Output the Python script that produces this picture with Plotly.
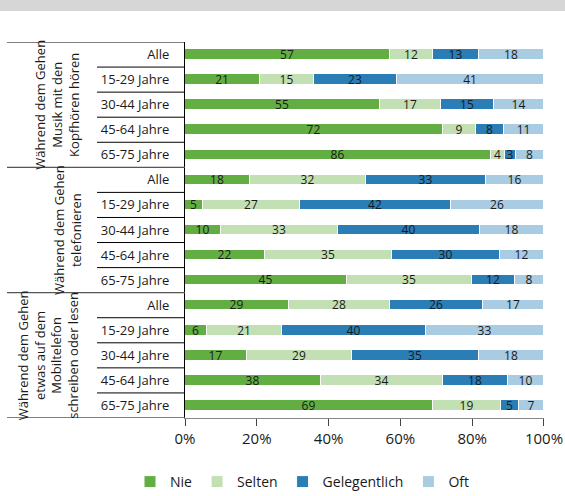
import plotly.graph_objects as go

series = ["Nie", "Selten", "Gelegentlich", "Oft"]
colors = ["#62ae42", "#c2e0b4", "#2a7db5", "#a9cce2"]

groups = [
    "Während dem Gehen<br>Musik mit den<br>Kopfhören hören",
    "Während dem Gehen<br>telefonieren",
    "Während dem Gehen<br>etwas auf dem<br>Mobiltelefon<br>schreiben oder lesen",
]
ages = ["Alle", "15-29 Jahre", "30-44 Jahre", "45-64 Jahre", "65-75 Jahre"]

nie = [57, 21, 55, 72, 86, 18, 5, 10, 22, 45, 29, 6, 17, 38, 69]
selten = [12, 15, 17, 9, 4, 32, 27, 33, 35, 35, 28, 21, 29, 34, 19]
gelegentlich = [13, 23, 15, 8, 3, 33, 42, 40, 30, 12, 26, 40, 35, 18, 5]
oft = [18, 41, 14, 11, 8, 16, 26, 18, 12, 8, 17, 33, 18, 10, 7]

x_ticks = [0, 20, 40, 60, 80, 100]
x_tick_labels = ["0%", "20%", "40%", "60%", "80%", "100%"]

values = [nie, selten, gelegentlich, oft]
n = len(nie)
rows = list(range(n))
row_labels = ages * len(groups)
totals = [sum(v[i] for v in values) for i in rows]

# pixel geometry helpers
L, R, T, B = 185, 21, 42, 78
W, H = 565, 496
pw = W - L - R
ph = H - T - B


def px_x(p):
    return (p - L) / pw


def px_y(p):
    return 1 - (p - T) / ph


fig = go.Figure()
for name, col, vals in zip(series, colors, values):
    fig.add_trace(go.Bar(
        y=rows,
        x=[round(vals[i] / totals[i] * 100, 6) for i in rows],
        orientation="h",
        name=name,
        marker=dict(color=col, line=dict(color="white", width=1)),
        width=0.42,
        text=[str(v) for v in vals],
        textposition="inside",
        insidetextanchor="middle",
        textangle=0,
        constraintext="none",
        textfont=dict(family="Open Sans", size=12, color="#1a1a1a"),
        cliponaxis=False,
        hoverinfo="skip",
    ))

shapes = []
# top grey band
shapes.append(dict(type="rect", xref="paper", yref="paper",
                   x0=px_x(0), x1=px_x(W), y0=px_y(11), y1=px_y(0),
                   fillcolor="#d6d6d6", line=dict(width=0), layer="below"))
# top line of the label table
shapes.append(dict(type="line", xref="paper", yref="y", x0=px_x(7), x1=0,
                   y0=-0.5, y1=-0.5, line=dict(color="#000", width=1)))
for i in range(n):
    b = i + 0.5
    if (i + 1) % len(ages) == 0:
        shapes.append(dict(type="line", xref="paper", yref="y", x0=px_x(7), x1=0,
                           y0=b, y1=b, line=dict(color="#555", width=1.3)))
    else:
        shapes.append(dict(type="line", xref="paper", yref="y", x0=px_x(97), x1=0,
                           y0=b, y1=b, line=dict(color="#000", width=1)))

annotations = []
centers_px = [57, 67, 48]
for g, (txt, cx) in enumerate(zip(groups, centers_px)):
    annotations.append(dict(
        text=txt, xref="paper", yref="y", x=px_x(cx), y=g * len(ages) + (len(ages) - 1) / 2,
        xanchor="center", yanchor="middle", textangle=-90, showarrow=False,
        font=dict(family="Open Sans", size=13, color="#1a1a1a"), align="center",
    ))

fig.update_layout(
    width=W, height=H,
    margin=dict(l=L, r=R, t=T, b=B, autoexpand=False),
    barmode="stack",
    bargap=0,
    plot_bgcolor="white",
    paper_bgcolor="white",
    font=dict(family="Open Sans", size=14, color="#1a1a1a"),
    shapes=shapes,
    annotations=annotations,
    legend=dict(orientation="h", x=px_x(130), xanchor="left", y=px_y(482), yanchor="middle",
                font=dict(family="Open Sans", size=14, color="#1a1a1a"),
                itemwidth=30, traceorder="normal"),
    xaxis=dict(range=[0, 100.01], tickmode="array", tickvals=x_ticks, ticktext=x_tick_labels,
               showgrid=False, zeroline=False, showline=True, linecolor="#888",
               ticks="outside", ticklen=7, tickcolor="#444", automargin=False,
               tickfont=dict(family="Open Sans", size=15, color="#1a1a1a")),
    yaxis=dict(range=[n - 0.5, -0.5], tickvals=rows, ticktext=row_labels,
               showgrid=False, zeroline=False, showline=True, linecolor="#000",
               linewidth=1, ticks="", ticklabelstandoff=12, automargin=False,
               tickfont=dict(family="Open Sans", size=13, color="#1a1a1a")),
)

fig.write_html("out.html", config={"displayModeBar": False},
               post_script="document.body.style.margin='0';document.body.style.overflow='hidden';")
